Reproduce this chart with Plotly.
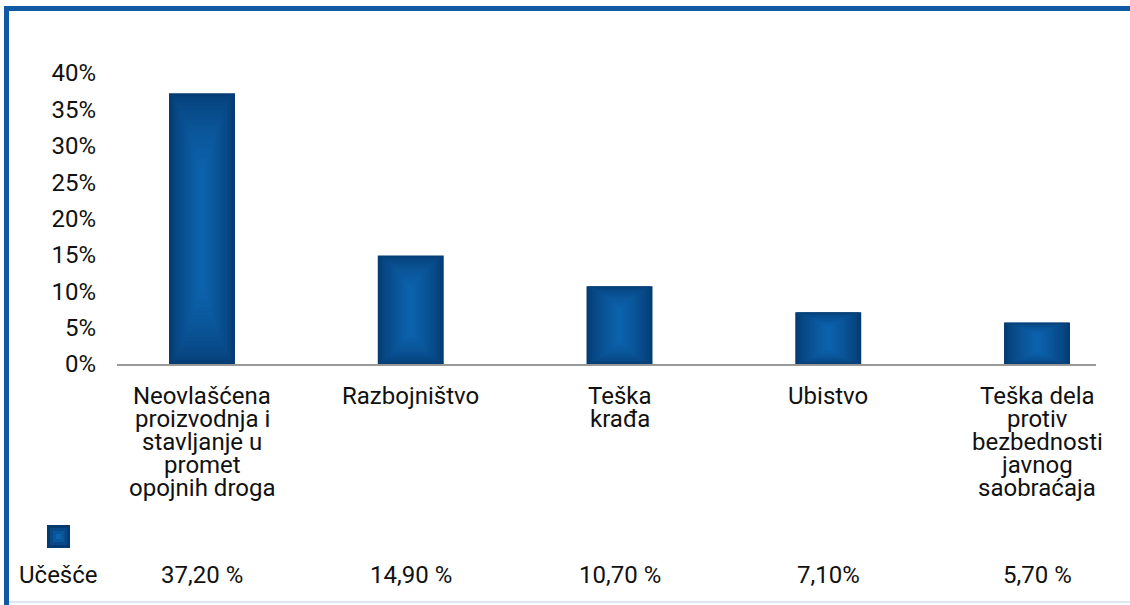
import plotly.graph_objects as go

# ---- data ----
categories = [
    "Neovlašćena<br>proizvodnja i<br>stavljanje u<br>promet<br>opojnih droga",
    "Razbojništvo",
    "Teška<br>krađa",
    "Ubistvo",
    "Teška dela<br>protiv<br>bezbednosti<br>javnog<br>saobraćaja",
]
values = [37.2, 14.9, 10.7, 7.1, 5.7]
value_labels = ["37,20 %", "14,90 %", "10,70 %", "7,10%", "5,70 %"]
series_name = "Učešće"
y_ticks = [0, 5, 10, 15, 20, 25, 30, 35, 40]
y_ticklabels = [f"{t}%" for t in y_ticks]

# ---- layout geometry (pixels) ----
W, H = 1130, 605
PL, PR, PT, PB = 117, 1096, 73, 364
FONT = "Roboto"
TXT = "#111111"
FS = 24


def px_x(p):
    return (p - PL) / (PR - PL)


def px_y(p):
    return (PB - p) / (PB - PT)


xs = list(range(len(values)))
bar_w = 0.316

outer = (5, 58, 112)
center = (12, 98, 172)


def lerp(a, b, t):
    return "rgb(%d,%d,%d)" % tuple(round(a[i] + (b[i] - a[i]) * t) for i in range(3))


fig = go.Figure()
N = 24
for k in range(N):
    t = k / (N - 1)
    wf = 1 - 0.92 * t
    hf = 1 - 0.55 * t ** 1.4
    fig.add_trace(go.Bar(
        x=xs,
        y=[v * hf for v in values],
        base=[v * (1 - hf) / 2 for v in values],
        width=bar_w * wf,
        marker=dict(color=lerp(outer, center, t ** 0.75), line=dict(width=0)),
        hoverinfo="skip",
        showlegend=False,
    ))

annotations = []
# category labels, one annotation per line for tight line spacing
for i, cat in enumerate(categories):
    for j, line in enumerate(cat.split("<br>")):
        annotations.append(dict(
            x=i, xref="x", y=px_y(396 + 23 * j), yref="paper",
            text=line, showarrow=False, xanchor="center", yanchor="middle",
            font=dict(family=FONT, size=FS, color=TXT),
        ))
# values row
for i, lab in enumerate(value_labels):
    annotations.append(dict(
        x=i, xref="x", y=px_y(575), yref="paper",
        text=lab, showarrow=False, xanchor="center", yanchor="middle",
        font=dict(family=FONT, size=FS, color=TXT),
    ))
annotations.append(dict(
    x=px_x(58), xref="paper", y=px_y(575), yref="paper",
    text=series_name, showarrow=False, xanchor="center", yanchor="middle",
    font=dict(family=FONT, size=FS, color=TXT),
))

shapes = []
# legend key square (layered for gradient look)
for s, col in [(11.5, outer), (8.5, (8, 74, 136)), (5.5, (10, 86, 154)), (2.5, center)]:
    shapes.append(dict(
        type="rect", xref="paper", yref="paper",
        x0=px_x(58.5 - s), x1=px_x(58.5 + s), y0=px_y(536.5 + s), y1=px_y(536.5 - s),
        fillcolor=lerp(col, col, 0), line=dict(width=0), layer="above",
    ))
# frame
BORDER = "#0f5aa3"
shapes.append(dict(type="rect", xref="paper", yref="paper",
                   x0=px_x(4), x1=px_x(1130), y0=px_y(11), y1=px_y(6),
                   fillcolor=BORDER, line=dict(width=0)))
shapes.append(dict(type="rect", xref="paper", yref="paper",
                   x0=px_x(4), x1=px_x(9), y0=px_y(605), y1=px_y(6),
                   fillcolor=BORDER, line=dict(width=0)))
shapes.append(dict(type="line", xref="paper", yref="paper",
                   x0=px_x(9), x1=px_x(1130), y0=px_y(602), y1=px_y(602),
                   line=dict(color="#dce7f4", width=2)))

fig.update_layout(
    width=W, height=H,
    margin=dict(l=PL, r=W - PR, t=PT, b=H - PB, pad=0),
    paper_bgcolor="white", plot_bgcolor="white",
    barmode="overlay",
    showlegend=False,
    font=dict(family=FONT, size=FS, color=TXT),
    xaxis=dict(
        range=[(PL - 202) / 208.75, 4 + (PR - 1037) / 208.75],
        showticklabels=False, showgrid=False, zeroline=False,
        showline=True, linecolor="#999999", linewidth=2, ticks="",
        fixedrange=True,
    ),
    yaxis=dict(
        range=[0, 40], tickvals=y_ticks, ticktext=y_ticklabels,
        showgrid=False, zeroline=False, showline=False, ticks="",
        ticklabelstandoff=20, tickfont=dict(family=FONT, size=FS, color=TXT),
        fixedrange=True,
    ),
    annotations=annotations,
    shapes=shapes,
)

fig.write_html(
    "out.html",
    config={"displayModeBar": False},
    post_script="document.body.style.margin='0';document.body.style.overflow='hidden';",
)
